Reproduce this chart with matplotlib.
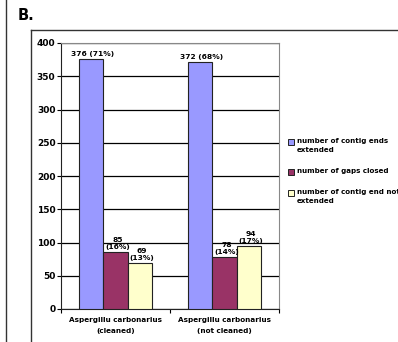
import numpy as np
import matplotlib.pyplot as plt
from matplotlib.lines import Line2D
from matplotlib.patches import Rectangle

categories = ['Aspergillu carbonarius\n(cleaned)', 'Aspergillu carbonarius\n(not cleaned)']
series_names = ['number of contig ends\nextended', 'number of gaps closed',
                'number of contig end not\nextended']
ends_extended = [376, 372]
gaps_closed = [85, 78]
ends_not_extended = [69, 94]
bar_labels = [['376 (71%)', '372 (68%)'],
              ['85\n(16%)', '78\n(14%)'],
              ['69\n(13%)', '94\n(17%)']]

colors = ['#9999FF', '#993366', '#FFFFCC']

W, H = 398, 342
fig = plt.figure(figsize=(W / 100.0, H / 100.0), dpi=100, facecolor='white')

# panel frame lines
def fline(x0, y0, x1, y1, **kw):
    fig.add_artist(Line2D([x0 / W, x1 / W], [1 - y0 / H, 1 - y1 / H], transform=fig.transFigure, **kw))

fline(6, 0, 6, H, color='#333333', lw=1.0)
fline(31, 30, 31, H, color='#333333', lw=1.0)
fline(31, 30, W, 30, color='#333333', lw=1.0)
fig.text(18 / W, 1 - 16 / H, 'B.', fontsize=10.5, fontweight='bold', va='center', ha='left')

ax = fig.add_axes([61 / W, 1 - 309 / H, (279 - 61) / W, (309 - 43) / H])

x = np.arange(len(categories))
bw = 0.225
series = [ends_extended, gaps_closed, ends_not_extended]
for i, (vals, c) in enumerate(zip(series, colors)):
    pos = x + (i - 1) * bw
    bars = ax.bar(pos, vals, width=bw, color=c, edgecolor='#222222', linewidth=0.8, zorder=3)
    for b, v, lab in zip(bars, vals, bar_labels[i]):
        ax.annotate(lab, (b.get_x() + b.get_width() / 2, v), xytext=(1.5, 1.5),
                    textcoords='offset points', ha='center', va='bottom',
                    fontsize=5.4, fontweight='bold', linespacing=1.3, zorder=4)

ax.set_xlim(-0.5, 1.5)
ax.set_ylim(0, 400)
ax.set_yticks(np.arange(0, 401, 50))
ax.yaxis.grid(True, color='black', lw=0.9, zorder=0)
ax.set_axisbelow(True)
ax.set_xticks(x)
ax.set_xticklabels(categories, fontsize=5.2, fontweight='bold', linespacing=2.0)
ax.set_xticks([-0.5, 0.5, 1.5], minor=True)
ax.tick_params(axis='x', which='major', length=0, pad=6)
ax.tick_params(axis='x', which='minor', length=3, width=0.8, direction='out')
ax.tick_params(axis='y', length=3, width=0.8, labelsize=6.5, pad=1)
for lab in ax.get_yticklabels():
    lab.set_fontweight('bold')
for s in ['top', 'right']:
    ax.spines[s].set_color('#888888')
ax.spines['left'].set_color('#222222')
ax.spines['bottom'].set_color('#222222')

# legend: swatch lined up with the first text line of each entry
ly = 142
for name, c in zip(series_names, colors):
    fig.add_artist(Rectangle((288 / W, 1 - (ly + 3) / H), 5.5 / W, 6 / H,
                             transform=fig.transFigure, facecolor=c,
                             edgecolor='#222222', lw=0.7))
    fig.text(297 / W, 1 - (ly - 4) / H, name, fontsize=5.1, fontweight='bold',
             ha='left', va='top', linespacing=1.55)
    ly += name.count('\n') * 9 + 21

fig.savefig('out.png', dpi=100)
